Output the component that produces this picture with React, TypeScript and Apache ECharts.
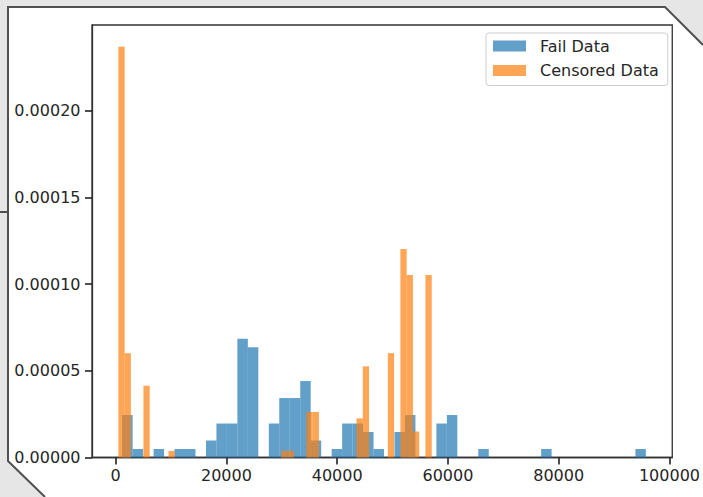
import React, { useEffect, useRef } from "react";
import * as echarts from "echarts";

// Histogram bins (density)
const failBinStart = 1168;
const failBinWidth = 1891.5;
const failDensity = [
  0.0000245, 0.0000049, 0, 0.0000049, 0, 0.0000049, 0.0000049, 0, 0.0000098, 0.0000196,
  0.0000196, 0.0000685, 0.0000636, 0, 0.0000196, 0.0000343, 0.0000343, 0.0000441, 0.0000098, 0,
  0.0000049, 0.0000196, 0.0000196, 0.0000147, 0.0000049, 0, 0.0000147, 0.0000245, 0, 0,
  0.0000196, 0.0000245, 0, 0, 0.0000049, 0, 0, 0, 0, 0,
  0.0000049, 0, 0, 0, 0, 0, 0, 0, 0, 0.0000049,
];

const censoredBinStart = 485;
const censoredBinWidth = 1131.7;
const censoredDensity = [
  0.0002369, 0.0000602, 0, 0, 0.0000414, 0, 0, 0, 0.0000038, 0,
  0, 0, 0, 0, 0, 0, 0, 0, 0, 0,
  0, 0, 0, 0, 0, 0, 0.0000038, 0.0000038, 0, 0,
  0.0000263, 0.0000263, 0, 0, 0, 0, 0, 0, 0.0000226, 0.0000526,
  0, 0, 0, 0.0000602, 0, 0.0001203, 0.0001053, 0.0000150, 0, 0.0001053,
];

const seriesNames = ["Fail Data", "Censored Data"];
const xTicks = [0, 20000, 40000, 60000, 80000, 100000];
const yTicks = [0, 0.00005, 0.0001, 0.00015, 0.0002];
const xRange = [-4278, 100506];
const yRange = [0, 0.0002495];

const FAIL_COLOR = "rgba(31,119,180,0.7)";
const CENS_COLOR = "rgba(255,127,14,0.7)";
const FONT = "DejaVu Sans";

function toBins(start: number, width: number, values: number[]) {
  const out: number[][] = [];
  values.forEach((v, i) => {
    if (v > 0) out.push([start + i * width, start + (i + 1) * width, v]);
  });
  return out;
}

function makeRender(color: string) {
  return (_params: any, api: any) => {
    const x0 = api.value(0);
    const x1 = api.value(1);
    const h = api.value(2);
    const p0 = api.coord([x0, h]);
    const p1 = api.coord([x1, 0]);
    return {
      type: "rect",
      shape: { x: p0[0], y: p0[1], width: p1[0] - p0[0], height: p1[1] - p0[1] },
      style: { fill: color },
    };
  };
}

export default function App() {
  const ref = useRef<HTMLDivElement>(null);
  useEffect(() => {
    if (!ref.current) return;
    const chart = echarts.init(ref.current, undefined, { renderer: "svg" });
    chart.setOption({
      animation: false,
      backgroundColor: "#ffffff",
      textStyle: { fontFamily: FONT },
      graphic: [
        {
          type: "polygon",
          silent: true,
          shape: {
            points: [
              [0, 0],
              [703, 0],
              [703, 45],
              [665, 7],
              [8, 7],
              [8, 461],
              [45, 497],
              [0, 497],
            ],
          },
          style: { fill: "#e6e6e6" },
        },
        {
          type: "polyline",
          silent: true,
          shape: {
            points: [
              [703, 45],
              [665, 7],
              [8, 7],
              [8, 461],
              [45, 497],
            ],
          },
          style: { stroke: "#505050", lineWidth: 2, fill: "none" },
        },
        {
          type: "line",
          silent: true,
          shape: { x1: 0, y1: 212, x2: 8, y2: 212 },
          style: { stroke: "#505050", lineWidth: 2 },
        },
      ],
      grid: {
        left: 92,
        right: 29,
        top: 25,
        bottom: 39.5,
        show: true,
        backgroundColor: "#ffffff",
        borderColor: "#333333",
        borderWidth: 1.3,
      },
      legend: {
        data: seriesNames,
        orient: "vertical",
        left: 486,
        top: 33,
        padding: [4, 9, 6, 7],
        itemGap: 6.5,
        itemWidth: 33,
        itemHeight: 11,
        backgroundColor: "rgba(255,255,255,0.8)",
        borderColor: "#cccccc",
        borderWidth: 1,
        borderRadius: 3,
        icon: "rect",
        textStyle: {
          fontFamily: FONT,
          fontSize: 16,
          lineHeight: 18,
          color: "#262626",
          padding: [0, 0, 0, 9],
        },
      },
      xAxis: {
        type: "value",
        position: "bottom",
        min: xRange[0],
        max: xRange[1],
        splitLine: { show: false },
        axisLine: { show: true, onZero: false, lineStyle: { color: "#333333", width: 1.3 } },
        axisTick: {
          show: true,
          length: 7,
          lineStyle: { color: "#222222", width: 1.6 },
          customValues: xTicks,
        },
        axisLabel: {
          customValues: xTicks,
          margin: 10,
          fontFamily: FONT,
          fontSize: 16,
          color: "#262626",
          formatter: (v: number) => String(Math.round(v)),
        },
      },
      yAxis: {
        type: "value",
        position: "left",
        min: yRange[0],
        max: yRange[1],
        splitLine: { show: false },
        axisLine: { show: true, onZero: false, lineStyle: { color: "#333333", width: 1.3 } },
        axisTick: {
          show: true,
          length: 7,
          lineStyle: { color: "#222222", width: 1.6 },
          customValues: yTicks,
        },
        axisLabel: {
          customValues: yTicks,
          margin: 11.5,
          fontFamily: FONT,
          fontSize: 16,
          color: "#262626",
          formatter: (v: number) => v.toFixed(5),
        },
      },
      series: [
        {
          name: seriesNames[0],
          type: "custom",
          itemStyle: { color: FAIL_COLOR },
          renderItem: makeRender(FAIL_COLOR),
          encode: { x: [0, 1], y: 2 },
          data: toBins(failBinStart, failBinWidth, failDensity),
          z: 2,
        },
        {
          name: seriesNames[1],
          type: "custom",
          itemStyle: { color: CENS_COLOR },
          renderItem: makeRender(CENS_COLOR),
          encode: { x: [0, 1], y: 2 },
          data: toBins(censoredBinStart, censoredBinWidth, censoredDensity),
          z: 3,
        },
      ],
    });
    return () => chart.dispose();
  }, []);
  return (
    <div
      ref={ref}
      style={{ position: "fixed", left: 0, top: 0, width: 703, height: 497 }}
    />
  );
}
